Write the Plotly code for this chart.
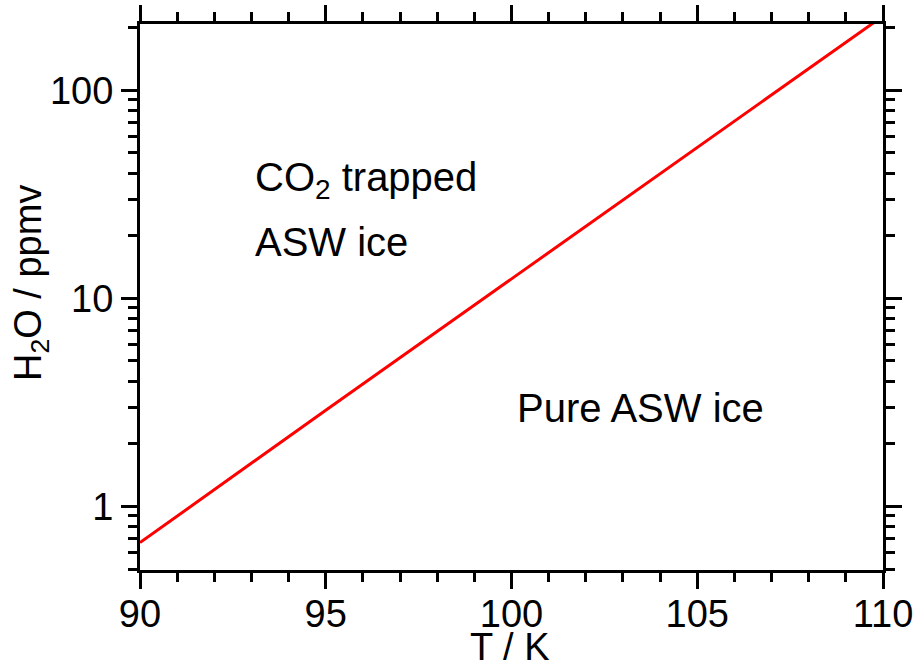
import math
import plotly.graph_objects as go

# Boundary between CO2-trapping and pure amorphous solid water (ASW) ice
temperature_K = [90, 95, 100, 105, 110]
h2o_ppmv = [0.67, 2.9, 12.4, 53, 227]

x_ticks = [90, 95, 100, 105, 110]
y_ticks = [1, 10, 100]
y_tick_text = ["1", "10", "100"]

FONT = "Arial, Liberation Sans, sans-serif"
FS = 38

# minor ticks: each unit on T, each digit within a decade on the log axis
x_minor = [v for v in range(90, 111) if v % 5]
y_minor = [m * 10 ** d for d in (-1, 0, 1, 2) for m in range(2, 10)
           if 0.49 <= m * 10 ** d <= 210 and m * 10 ** d not in y_ticks]

fig = go.Figure()
fig.add_trace(go.Scatter(
    x=temperature_K, y=h2o_ppmv, mode="lines",
    line=dict(color="#ff0000", width=3), showlegend=False,
))

axis_common = dict(
    showline=True, linecolor="black", linewidth=3, mirror="allticks",
    ticks="outside", ticklen=16, tickwidth=3, tickcolor="black",
    showgrid=False, zeroline=False, automargin=False,
    tickfont=dict(family=FONT, size=FS, color="black"),
)

fig.update_xaxes(
    range=[90, 110], tickmode="array", tickvals=x_ticks,
    ticklabelstandoff=-8,
    minor=dict(tickmode="array", tickvals=x_minor, ticks="outside",
               ticklen=9, tickwidth=3, tickcolor="black", showgrid=False),
    **axis_common,
)
fig.update_yaxes(
    type="log", range=[math.log10(0.495), math.log10(208)],
    tickmode="array", tickvals=y_ticks, ticktext=y_tick_text,
    minor=dict(tickmode="array", tickvals=y_minor, ticks="outside",
               ticklen=9, tickwidth=3, tickcolor="black", showgrid=False),
    **axis_common,
)

title_font = dict(family=FONT, size=FS, color="black")
fig.add_annotation(x=0.498, y=(570 - 647) / 546, xref="paper", yref="paper",
                   text="T / K", showarrow=False,
                   xanchor="center", yanchor="middle", font=title_font)
fig.add_annotation(x=(31 - 140) / 743, y=(570 - 283) / 546,
                   xref="paper", yref="paper", textangle=-90,
                   text="H<sub>2</sub>O / ppmv", showarrow=False,
                   xanchor="center", yanchor="middle", font=title_font)

label_font = dict(family=FONT, size=40, color="black")
fig.add_annotation(x=0.152, y=(570 - 180) / 546, xref="paper", yref="paper",
                   text="CO<sub>2</sub> trapped", showarrow=False,
                   xanchor="left", yanchor="middle", font=label_font)
fig.add_annotation(x=0.152, y=(570 - 242) / 546, xref="paper", yref="paper",
                   text="ASW ice", showarrow=False,
                   xanchor="left", yanchor="middle", font=label_font)
fig.add_annotation(x=0.505, y=(570 - 408) / 546, xref="paper", yref="paper",
                   text="Pure ASW ice", showarrow=False,
                   xanchor="left", yanchor="middle", font=label_font)

fig.update_layout(
    width=920, height=672,
    margin=dict(l=140, r=37, t=24, b=102),
    paper_bgcolor="white", plot_bgcolor="white",
    font=dict(family=FONT, size=FS, color="black"),
)

fig.write_html("out.html")
